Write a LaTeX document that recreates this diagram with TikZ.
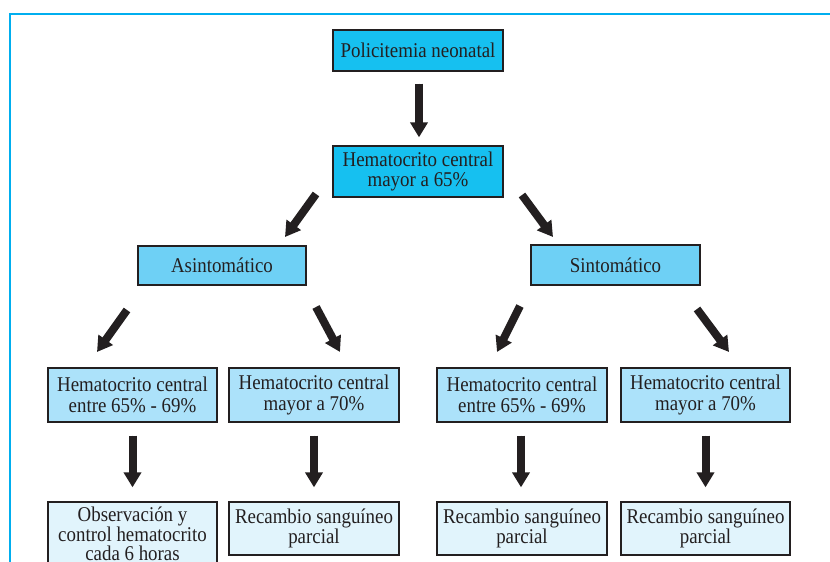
\documentclass[tikz,border=0pt]{standalone}
\usepackage{fontspec}
\setmainfont{Liberation Serif}[FakeStretch=0.9]
\usetikzlibrary{arrows.meta}
\definecolor{frameblue}{RGB}{0,174,239}
\definecolor{inkdark}{RGB}{35,31,32}
\definecolor{fillA}{RGB}{22,192,240}
\definecolor{fillB}{RGB}{110,208,245}
\definecolor{fillC}{RGB}{172,226,250}
\definecolor{fillD}{RGB}{225,244,252}
\tikzset{
  box/.style={draw=inkdark, line width=1.3pt, text=inkdark, align=center,
    inner sep=0pt, font=\fontsize{21}{20.5}\selectfont},
  bigarrow/.style={draw=inkdark, line width=8pt,
    -{Triangle[width=17pt,length=15pt]}, fill=inkdark}
}
\begin{document}
\begin{tikzpicture}[x=1pt,y=-1pt]
\useasboundingbox (0,0) rectangle (830,562);
\fill[white] (0,0) rectangle (830,562);
\draw[frameblue, line width=2.5pt] (10,570) -- (10,14) -- (840,14);

\node[box, fill=fillA, minimum width=170pt, minimum height=41pt] (b1) at (418,50.5) {Policitemia neonatal};
\node[box, fill=fillA, minimum width=170pt, minimum height=51pt] (b2) at (418,171.5) {Hematocrito central\\mayor a 65\%};

\node[box, fill=fillB, minimum width=168pt, minimum height=39pt] (asin) at (222,265.5) {Asintomático};
\node[box, fill=fillB, minimum width=169pt, minimum height=40pt] (sint) at (615.5,265) {Sintomático};

\node[box, fill=fillC, minimum width=169pt, minimum height=54pt] (c1) at (132.5,395) {Hematocrito central\\entre 65\% - 69\%};
\node[box, fill=fillC, minimum width=170pt, minimum height=54pt] (c2) at (314,395) {Hematocrito central\\mayor a 70\%};
\node[box, fill=fillC, minimum width=170pt, minimum height=54pt] (c3) at (522,395) {Hematocrito central\\entre 65\% - 69\%};
\node[box, fill=fillC, minimum width=169pt, minimum height=54pt] (c4) at (705.5,395) {Hematocrito central\\mayor a 70\%};

\node[box, fill=fillD, minimum width=169pt, minimum height=64pt, font=\fontsize{21}{19.6}\selectfont] (d1) at (132.5,534) {Observación y\\control hematocrito\\cada 6 horas};
\node[box, fill=fillD, minimum width=170pt, minimum height=53pt] (d2) at (314,528.5) {Recambio sanguíneo\\parcial};
\node[box, fill=fillD, minimum width=170pt, minimum height=53pt] (d3) at (522,528.5) {Recambio sanguíneo\\parcial};
\node[box, fill=fillD, minimum width=169pt, minimum height=53pt] (d4) at (705.5,528.5) {Recambio sanguíneo\\parcial};

% vertical arrows
\draw[bigarrow, shorten <=12pt, shorten >=8pt] ([xshift=1pt]b1.south) -- ([xshift=1pt]b2.north);
\draw[bigarrow, shorten <=13pt, shorten >=14pt] (c1.south) -- (c1.south |- d1.north);
\draw[bigarrow, shorten <=13pt, shorten >=14pt] (c2.south) -- (d2.north);
\draw[bigarrow, shorten <=13pt, shorten >=14pt] ([xshift=-1pt]c3.south) -- ([xshift=-1pt]d3.north);
\draw[bigarrow, shorten <=13pt, shorten >=14pt] (c4.south) -- (d4.north);

% diagonal arrows
\coordinate (t1) at (316,194); \coordinate (h1) at (285,237);
\coordinate (t2) at (522,195); \coordinate (h2) at (553,237);
\coordinate (t3) at (127,310); \coordinate (h3) at (97,352);
\coordinate (t4) at (316,307); \coordinate (h4) at (340,352);
\coordinate (t5) at (520,306); \coordinate (h5) at (497,352);
\coordinate (t6) at (697,309); \coordinate (h6) at (729,352);
\draw[bigarrow] (t1) -- (h1);
\draw[bigarrow] (t2) -- (h2);
\draw[bigarrow] (t3) -- (h3);
\draw[bigarrow] (t4) -- (h4);
\draw[bigarrow] (t5) -- (h5);
\draw[bigarrow] (t6) -- (h6);
\end{tikzpicture}
\end{document}
